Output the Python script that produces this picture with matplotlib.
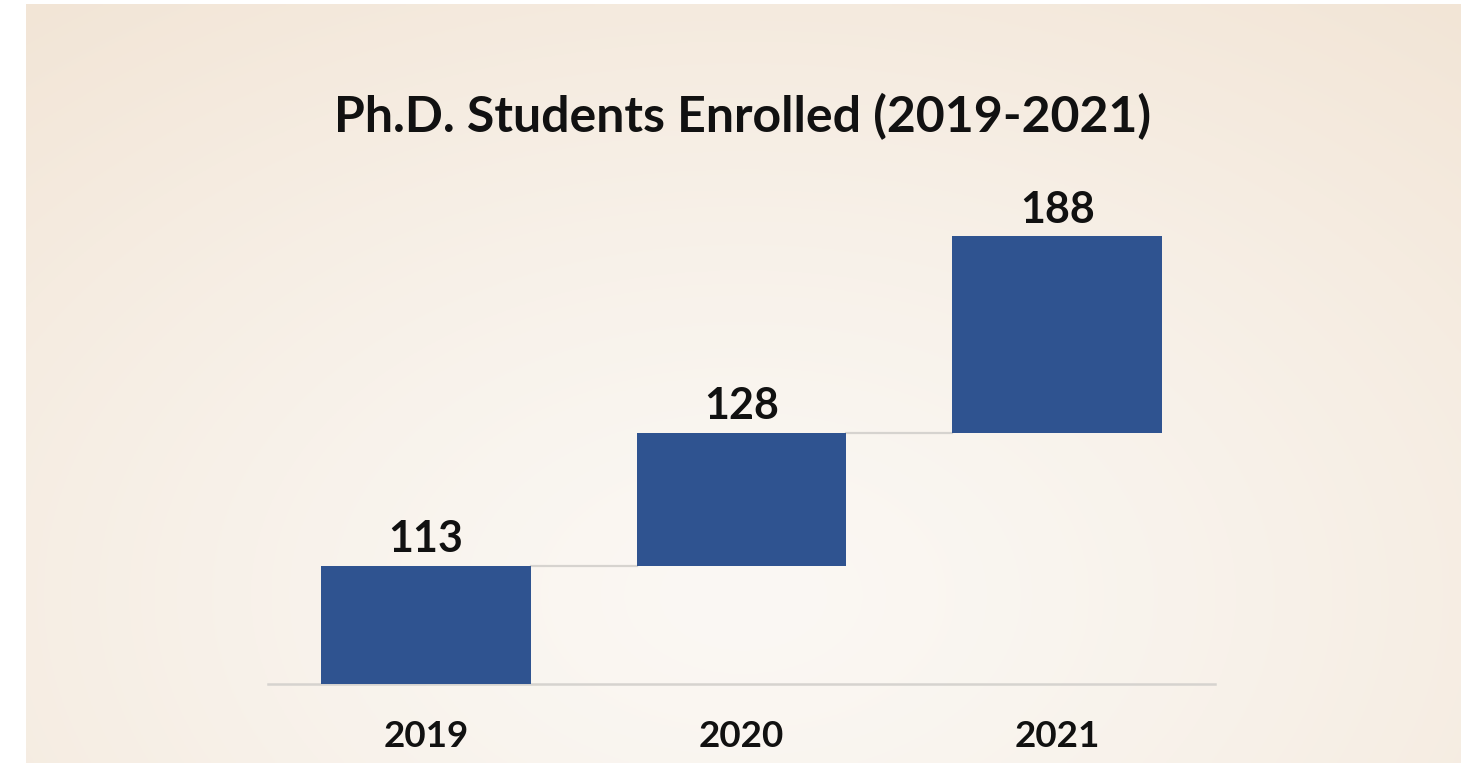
import numpy as np
import matplotlib.pyplot as plt

years = ['2019', '2020', '2021']
enrolled = [113, 128, 188]
title = 'Ph.D. Students Enrolled (2019-2021)'

bar_color = '#2F5390'
font = 'Lato'

W, H, dpi = 1468, 763, 100
fig = plt.figure(figsize=(W / dpi, H / dpi), dpi=dpi)
fig.patch.set_facecolor('white')

# soft radial backdrop, lighter towards the lower middle
bg = fig.add_axes([26 / W, 0, (1461 - 26) / W, (763 - 4) / H])
yy, xx = np.mgrid[0:1:300j, 0:1:600j]
r = np.sqrt(((xx - 0.5) / 0.8) ** 2 + ((yy - 0.78) / 1.0) ** 2)
r = np.clip(r, 0, 1) ** 1.3
light = np.array([251, 248, 244]) / 255
dark = np.array([242, 229, 214]) / 255
img = light[None, None, :] * (1 - r[..., None]) + dark[None, None, :] * r[..., None]
bg.imshow(img, aspect='auto', extent=[0, 1, 0, 1], origin='upper')
bg.axis('off')

# waterfall: each bar stacked on the running total
bottoms = np.concatenate([[0], np.cumsum(enrolled)[:-1]])
tops = bottoms + np.array(enrolled)
x = np.arange(len(years))
width = 0.665

ax = fig.add_axes([268 / W, (763 - 684) / H, (1215 - 268) / W, (684 - 225) / H])
ax.patch.set_alpha(0)
ax.set_xlim(-0.5, 2.5)
ax.set_ylim(0, 440)

ax.bar(x, enrolled, width=width, bottom=bottoms, color=bar_color, zorder=3)

# connectors between consecutive bars
for i in range(len(years) - 1):
    ax.plot([x[i] + width / 2, x[i + 1] - width / 2], [tops[i], tops[i]],
            color='#D6D3CF', lw=1.6, zorder=2)

for xi, top, v in zip(x, tops, enrolled):
    ax.annotate(str(v), (xi, top), xytext=(0, 10), textcoords='offset points',
                ha='center', va='baseline', fontsize=31, fontweight='bold',
                family=font, color='#111111')

for s in ['left', 'right', 'top']:
    ax.spines[s].set_visible(False)
ax.spines['bottom'].set_color('#D6D3CF')
ax.spines['bottom'].set_linewidth(1.8)
ax.set_yticks([])
ax.set_xticks(x)
ax.set_xticklabels(years, fontsize=26.5, fontweight='bold', family=font, color='#111111')
ax.tick_params(axis='x', length=0, pad=26)

fig.text(743 / W, 1 - 117 / H, title, ha='center', va='center',
         fontsize=36, fontweight='bold', family=font, color='#111111')

fig.savefig('out.png', dpi=dpi)
